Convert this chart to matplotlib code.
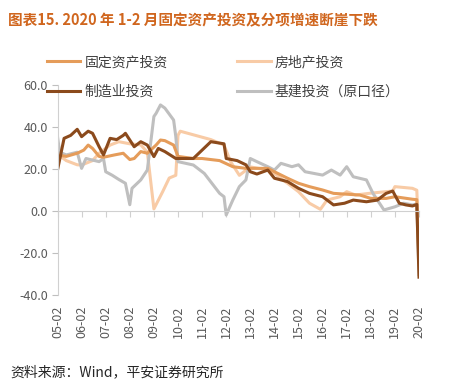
# 2020年1-2月固定资产投资及分项增速
import numpy as np
import matplotlib.pyplot as plt

plt.rcParams['font.family'] = ['Noto Sans CJK SC', 'DejaVu Sans']

####################### data (累计同比, %)
fai_dates = ["05-02", "05-06", "05-11", "06-03", "06-05", "06-07", "06-10", "06-12",
             "07-06", "07-10", "08-02", "08-04", "08-07", "08-10", "09-03", "09-05", "09-07",
             "09-11", "10-02", "10-09", "11-02", "11-10", "12-05", "12-11", "13-10",
             "14-02", "14-08", "15-02", "15-07", "16-02", "16-07", "17-02", "17-08", "18-02",
             "18-09", "19-02", "19-10", "19-12", "20-02"]
fai_vals = [26.7, 26.0, 27.5, 29.0, 31.4, 29.8, 26.0, 25.6,
            26.7, 27.5, 24.5, 25.0, 28.3, 27.5, 31.4, 33.8, 33.5,
            31.4, 26.0, 25.0, 25.0, 24.0, 21.1, 20.3, 20.3,
            18.7, 15.6, 13.2, 11.6, 10.0, 8.4, 8.0, 7.6, 6.0,
            6.0, 6.8, 5.6, 5.4, -24.5]

re_dates = ["05-02", "05-06", "05-11", "06-02", "06-07", "06-10", "07-04", "07-08",
            "08-02", "08-07", "08-10", "09-02", "09-06", "09-09", "09-12", "10-02",
            "10-03", "10-10", "11-06", "12-01", "12-04", "12-08", "13-02", "13-10",
            "14-02", "14-08", "15-02", "15-07", "15-12", "16-04", "16-10", "17-02",
            "17-06", "18-02", "18-12", "19-02", "19-10", "19-12", "20-02"]
re_vals = [27.0, 24.0, 22.0, 21.9, 24.0, 27.5, 31.4, 33.0,
           32.0, 31.5, 28.0, 1.0, 9.2, 15.7, 17.0, 36.0,
           38.0, 36.0, 34.0, 31.4, 23.5, 17.0, 21.0, 19.5,
           17.9, 13.2, 9.2, 3.7, 0.8, 5.2, 6.8, 9.2,
           7.6, 8.5, 9.5, 11.6, 10.8, 9.9, -16.3]

mfg_dates = ["05-02", "05-05", "05-08", "05-11", "06-02", "06-05", "06-07", "06-10", "06-12",
             "07-04", "07-07", "07-10", "07-11", "08-02", "08-04", "08-07", "08-10", "09-02",
             "09-04", "09-07", "09-12", "10-09", "10-12", "11-06", "11-12", "12-02",
             "12-07", "12-11", "13-02", "13-05", "13-10", "14-02", "14-08", "15-02",
             "15-07", "16-02", "16-07", "16-12", "17-05", "17-11", "18-05", "18-09",
             "18-12", "19-04", "19-07", "19-10", "19-12", "20-02"]
mfg_vals = [19.5, 34.6, 36.0, 38.9, 35.4, 38.0, 37.0, 30.6, 26.7,
            34.6, 34.0, 36.0, 37.0, 33.8, 30.6, 33.0, 31.4, 25.9,
            29.8, 28.3, 25.0, 25.0, 28.0, 33.0, 32.0, 25.0,
            24.0, 22.0, 18.7, 17.6, 19.5, 15.6, 14.0, 10.8,
            8.4, 6.8, 2.9, 3.7, 5.2, 4.4, 5.2, 8.4,
            9.5, 3.7, 2.9, 2.4, 3.1, -31.5]

infra_dates = ["05-02", "05-03", "05-06", "05-11", "06-02", "06-04", "06-10", "06-12",
               "07-02", "07-05", "07-08", "07-11", "08-02", "08-03", "08-07", "08-10",
               "09-02", "09-03", "09-05", "09-07", "09-11", "09-12", "10-02", "10-09",
               "11-03", "11-10", "11-12", "12-02", "12-05", "12-08", "12-11", "13-02",
               "13-05", "13-10", "14-02", "14-05", "14-10", "15-02", "15-05", "16-02",
               "16-06", "16-10", "17-02", "17-05", "17-11", "18-03", "18-08", "19-02",
               "19-06", "19-10", "19-12", "20-02"]
infra_vals = [35.4, 28.0, 26.7, 28.0, 20.3, 25.0, 23.5, 25.0,
              18.7, 17.0, 15.0, 13.2, 3.0, 10.8, 14.8, 19.5,
              45.0, 46.5, 50.5, 49.0, 43.3, 35.4, 23.5, 21.9,
              17.9, 8.4, 6.8, -1.9, 5.2, 11.6, 14.8, 25.0,
              23.5, 21.1, 19.5, 22.7, 21.1, 22.0, 18.7, 17.1,
              19.5, 17.1, 21.1, 16.3, 14.8, 8.4, 0.5, 2.0,
              3.7, 2.9, 3.3, -30.3]

tick_years = list(range(5, 21))
tick_labels = ["%02d-02" % y for y in tick_years]


def pos(s):  # "YY-MM" -> position on category axis (Feb..Dec per year)
    yy, mm = s.split("-")
    return int(yy) + (int(mm) - 2) / 11.0


####################### plot
fig = plt.figure(figsize=(4.49, 3.91), dpi=100)
ax = fig.add_axes([57.5/449, 1-295/391, 361.5/449, 210/391])

l_re, = ax.plot([pos(d) for d in re_dates], re_vals, color="#F8CBA6", lw=2.2, label="房地产投资")
l_inf, = ax.plot([pos(d) for d in infra_dates], infra_vals, color="#BFBFBF", lw=2.2, label="基建投资（原口径）")
l_fai, = ax.plot([pos(d) for d in fai_dates], fai_vals, color="#E59C5A", lw=2.2, label="固定资产投资")
l_mfg, = ax.plot([pos(d) for d in mfg_dates], mfg_vals, color="#8B4A1C", lw=2.2, label="制造业投资")

ax.set_xlim(5, 20)
ax.set_ylim(-40, 60)
ax.set_yticks(np.arange(-40, 61, 20))
ax.set_yticklabels(["%.1f" % v for v in np.arange(-40, 61, 20)])
ax.tick_params(axis="y", length=4, color="#BFBFBF", labelsize=9, labelcolor="#595959", pad=3)

for s in ["top", "right"]:
    ax.spines[s].set_visible(False)
ax.spines["left"].set_color("#D0D0D0")
ax.spines["bottom"].set_position(("data", 0))
ax.spines["bottom"].set_color("#D0D0D0")
ax.set_xticks(tick_years)
ax.tick_params(axis="x", length=4, color="#D0D0D0", labelbottom=False)

sec = ax.secondary_xaxis("bottom")
sec.set_xticks(tick_years)
sec.set_xticklabels(tick_labels, rotation=90)
sec.tick_params(length=0, labelsize=9, labelcolor="#595959", pad=8)
sec.spines["bottom"].set_visible(False)

leg = ax.legend([l_fai, l_mfg, l_re, l_inf],
                ["固定资产投资", "制造业投资", "房地产投资", "基建投资（原口径）"],
                ncol=2, loc="upper left", bbox_to_anchor=(47/449, 1-55/391),
                bbox_transform=fig.transFigure, frameon=False, fontsize=10,
                handlelength=2.4, handletextpad=0.3, columnspacing=5.0,
                labelspacing=1.15, borderpad=0, borderaxespad=0)
for t in leg.get_texts():
    t.set_color("#404040")

fig.text(8/449, 1-20/391, "图表15. 2020 年 1-2 月固定资产投资及分项增速断崖下跌",
         fontsize=10.5, fontweight="bold", color="#D0661E", va="center", ha="left")
fig.text(10/449, 1-372/391, "资料来源：Wind，平安证券研究所",
         fontsize=10, color="#262626", va="center", ha="left")

fig.savefig("out.png", dpi=100)
